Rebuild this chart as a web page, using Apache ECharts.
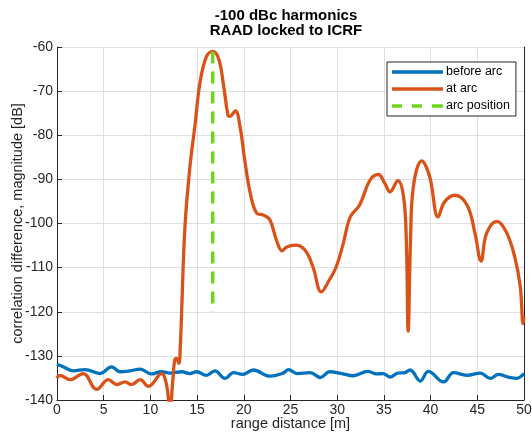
<!DOCTYPE html>
<html>
<head>
<meta charset="utf-8">
<script src="https://cdn.jsdelivr.net/npm/echarts@6/dist/echarts.min.js"></script>
<style>html,body{margin:0;padding:0;background:#fff}#c{width:532px;height:439px}</style>
</head>
<body>
<div id="c"></div>
<script>
const titleLines = ['-100 dBc harmonics', 'RAAD locked to ICRF'];
const xName = 'range distance [m]';
const yName = 'correlation difference, magnitude [dB]';
const seriesNames = ['before arc', 'at arc', 'arc position'];

const beforeX = [0, 0.7, 1.75, 3.0, 4.6, 5.85, 6.75, 7.8, 8.9, 10.1, 11.2, 12.1, 13.35, 14.2, 14.95, 16.0, 16.9, 18.0, 18.9, 19.9, 21.0, 22.8, 24.2, 24.8, 25.7, 27.1, 28.2, 29.2, 30.5, 31.7, 33.3, 34.2, 34.9, 35.65, 36.5, 37.25, 37.8, 38.9, 39.75, 41.4, 42.45, 43.9, 45.3, 46.4, 47.25, 48.3, 49.2, 50];
const beforeY = [-131.9, -132.5, -133.4, -133.1, -134.0, -132.5, -133.6, -133.4, -133.0, -134.1, -133.6, -133.9, -133.6, -134.0, -133.6, -134.4, -133.4, -135.1, -133.8, -134.2, -133.2, -134.6, -133.9, -133.1, -134.0, -133.8, -134.9, -133.6, -134.0, -134.5, -133.5, -134.1, -134.0, -134.8, -133.9, -133.8, -133.2, -135.7, -133.5, -135.9, -133.8, -134.4, -133.9, -135.1, -134.2, -134.8, -135.1, -134.0];

const atX = [0, 0.3, 1.4, 2.8, 4.25, 5.5, 6.4, 7.3, 8.0, 8.9, 9.8, 11.2, 11.7, 12.1, 12.4, 12.6, 12.8, 13.05, 13.2, 13.35, 13.7, 14.24, 14.8, 15.3, 16.0, 16.67, 17.3, 17.8, 18.3, 18.5, 19.1, 19.6, 20.1, 20.7, 21.4, 22.1, 22.8, 23.5, 24.1, 24.6, 25.5, 26.55, 27.4, 28.3, 29.05, 29.9, 30.65, 31.4, 32.4, 33.5, 34.4, 35.1, 35.65, 36.5, 37.1, 37.4, 37.6, 37.85, 38.15, 39.05, 39.9, 40.8, 41.5, 42.6, 43.9, 44.75, 45.4, 46.0, 47.1, 48.1, 49.0, 49.6, 49.9, 50.0];
const atY = [-135.1, -134.4, -135.4, -134.0, -137.6, -135.4, -136.5, -135.9, -136.5, -135.4, -136.9, -134.0, -136.3, -142.0, -135.5, -131.0, -130.6, -131.7, -128.0, -119.6, -100.7, -87.0, -77.3, -68.2, -62.2, -61.0, -62.6, -68.2, -75.4, -75.7, -74.5, -78.1, -85.6, -93.2, -97.7, -98.1, -99.2, -103.8, -106.2, -105.3, -104.9, -106.0, -109.8, -115.5, -113.2, -109.8, -104.5, -98.5, -95.8, -90.2, -88.9, -90.9, -92.8, -90.3, -93.9, -103.8, -124.4, -103.8, -91.7, -85.8, -89.4, -98.5, -95.1, -93.6, -95.8, -102.2, -108.5, -102.2, -99.5, -101.9, -107.5, -114.3, -122.7, -121.1];

const arcX = [16.67, 16.67];
const arcY = [-61.0, -120.0];

const xTicks = [0, 5, 10, 15, 20, 25, 30, 35, 40, 45, 50];
const yTicks = [-140, -130, -120, -110, -100, -90, -80, -70, -60];

const zip = (xs, ys) => xs.map((x, i) => [x, ys[i]]);
const axisColor = '#262626';
const gridColor = '#dfdfdf';
const blue = '#0072BD', orange = '#D95319', green = '#6fd61c';
const font = '"Liberation Sans", Arial, sans-serif';

const chart = echarts.init(document.getElementById('c'), null, {renderer: 'canvas'});
chart.setOption({
  animation: false,
  backgroundColor: '#fff',
  graphic: [
    {type: 'text', x: 286, y: 16, silent: true,
     style: {text: titleLines[0], font: 'bold 15px ' + font, fill: '#000', align: 'center', verticalAlign: 'middle'}},
    {type: 'text', x: 286, y: 31, silent: true,
     style: {text: titleLines[1], font: 'bold 15px ' + font, fill: '#000', align: 'center', verticalAlign: 'middle'}}
  ],
  grid: {left: 57, right: 8, top: 47, bottom: 39, containLabel: false, outerBoundsMode: 'none'},
  legend: {
    orient: 'vertical',
    left: 387, top: 62,
    backgroundColor: '#fff',
    borderColor: axisColor, borderWidth: 1, borderRadius: 0,
    padding: [3, 6, 3, 5],
    itemWidth: 51, itemHeight: 3.3, itemGap: 3,
    textStyle: {fontFamily: font, fontSize: 12.5, color: '#000', lineHeight: 14, padding: [0, 0, 0, -2]},
    data: [
      {name: seriesNames[0], icon: 'path://M0,0H51V3.3H0Z', itemStyle: {color: blue}},
      {name: seriesNames[1], icon: 'path://M0,0H51V3.3H0Z', itemStyle: {color: orange}},
      {name: seriesNames[2], icon: 'path://M0,0H10V3.3H0Z M20,0H30V3.3H20Z M40,0H51V3.3H40Z', itemStyle: {color: green}}
    ]
  },
  xAxis: {
    type: 'value', min: xTicks[0], max: xTicks[xTicks.length - 1], interval: 5,
    name: xName, nameLocation: 'middle', nameGap: 16, nameMoveOverlap: false,
    nameTextStyle: {fontFamily: font, fontSize: 14.5, color: axisColor},
    axisLine: {show: true, onZero: false, lineStyle: {color: axisColor, width: 1}},
    axisTick: {show: true, inside: true, length: 5, lineStyle: {color: axisColor}},
    axisLabel: {fontFamily: font, fontSize: 14, color: axisColor, margin: 3},
    splitLine: {show: true, lineStyle: {color: gridColor, width: 1}}
  },
  yAxis: [{
    type: 'value', min: yTicks[0], max: yTicks[yTicks.length - 1], interval: 10,
    name: yName, nameLocation: 'middle', nameGap: 32, nameRotate: 90, nameMoveOverlap: false,
    nameTextStyle: {fontFamily: font, fontSize: 14.5, color: axisColor},
    axisLine: {show: true, onZero: false, lineStyle: {color: axisColor, width: 1}},
    axisTick: {show: true, inside: true, length: 5, lineStyle: {color: axisColor}},
    axisLabel: {fontFamily: font, fontSize: 14, color: axisColor, margin: 4},
    splitLine: {show: true, lineStyle: {color: gridColor, width: 1}}
  }, {
    type: 'value', position: 'right', min: yTicks[0], max: yTicks[yTicks.length - 1], interval: 10,
    axisLine: {show: true, onZero: false, lineStyle: {color: axisColor, width: 1}},
    axisTick: {show: false}, axisLabel: {show: false}, splitLine: {show: false}
  }],
  series: [
    {name: seriesNames[0], type: 'line', data: zip(beforeX, beforeY), showSymbol: false, symbol: 'none',
     smooth: 0.4, lineStyle: {color: blue, width: 3.3}, itemStyle: {color: blue}, clip: true, z: 2},
    {name: seriesNames[1], type: 'line', data: zip(atX, atY), showSymbol: false, symbol: 'none',
     smooth: 0.4, lineStyle: {color: orange, width: 3.3}, itemStyle: {color: orange}, clip: true, z: 3},
    {name: seriesNames[2], type: 'line', data: zip(arcX, arcY), showSymbol: false, symbol: 'none',
     lineStyle: {color: green, width: 3.5, type: [12, 8]}, itemStyle: {color: green}, clip: true, z: 4}
  ]
});
</script>
</body>
</html>
